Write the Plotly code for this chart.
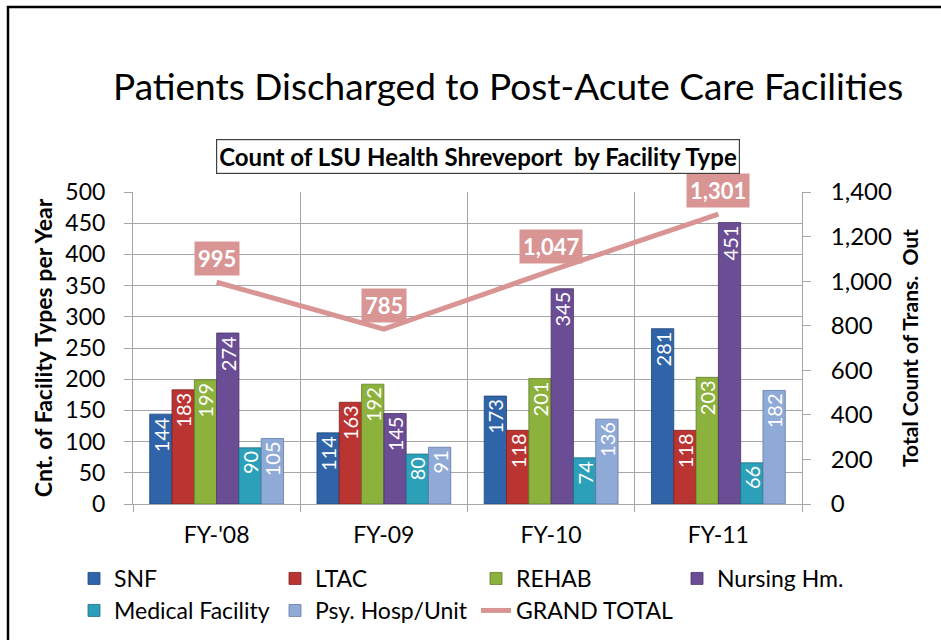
import plotly.graph_objects as go

# Fiscal years shown on the category axis
years = ["FY-'08", "FY-09", "FY-10", "FY-11"]

# Discharge counts per facility type
snf = [144, 114, 173, 281]
ltac = [183, 163, 118, 118]
rehab = [199, 192, 201, 203]
nursing = [274, 145, 345, 451]
medical = [90, 80, 74, 66]
psy = [105, 91, 136, 182]

# Total transfers out per year (secondary axis)
grand_total = [995, 785, 1047, 1301]

series_names = ["SNF", "LTAC", "REHAB", "Nursing Hm.", "Medical Facility", "Psy. Hosp/Unit"]
series_values = [snf, ltac, rehab, nursing, medical, psy]
series_colors = ["#2F64A9", "#BA3432", "#8CB23D", "#6B4D95", "#2C9FB9", "#8FAAD6"]
series_edges = ["#1F4678", "#82201F", "#5F7D26", "#4A3268", "#1D6F82", "#5F7BA6"]

FONT = "Lato"
LINE_COLOR = "#D99594"

# Plot-area pixel box
W, H = 941, 640
L, R, T, B = 133, 802, 192, 504


def px_x(px):
    return (px - L) / (R - L)


def px_y(py):
    return (B - py) / (B - T)


fig = go.Figure()

for name, vals, col, edge in zip(series_names, series_values, series_colors, series_edges):
    fig.add_trace(go.Bar(
        x=years, y=vals, name=name,
        marker=dict(color=col, line=dict(color=edge, width=0.8)),
        text=[str(v) for v in vals],
        textposition="inside", insidetextanchor="end", textangle=-90,
        constraintext="none",
        textfont=dict(family=FONT, size=20, color="white"),
        legend="legend" if name in ("SNF", "LTAC", "REHAB", "Nursing Hm.") else "legend2",
        hoverinfo="skip",
    ))

fig.add_trace(go.Scatter(
    x=years, y=grand_total, name="GRAND TOTAL", yaxis="y2",
    mode="lines", line=dict(color=LINE_COLOR, width=5),
    legend="legend2", hoverinfo="skip",
))

annotations = []
for yr, v in zip(years, grand_total):
    annotations.append(dict(
        x=yr, y=v, xref="x", yref="y2", text=f"<b>{v:,}</b>", showarrow=False,
        yshift=24, bgcolor=LINE_COLOR, borderpad=3,
        font=dict(family=FONT, size=22, color="white"),
    ))

annotations.append(dict(
    x=px_x(508), y=px_y(85), xref="paper", yref="paper", xanchor="center", yanchor="middle",
    text="Patients Discharged to Post-Acute Care Facilities", showarrow=False,
    font=dict(family=FONT, size=37, color="black"),
))
annotations.append(dict(
    x=px_x(478), y=px_y(156), xref="paper", yref="paper", xanchor="center", yanchor="middle",
    text="<b>Count of LSU Health Shreveport  by Facility Type</b>", showarrow=False,
    bordercolor="#404040", borderwidth=1.2, borderpad=2, bgcolor="white",
    font=dict(family=FONT, size=24, color="black"),
))

shapes = [dict(
    type="rect", xref="paper", yref="paper",
    x0=px_x(8), x1=px_x(960), y0=px_y(660), y1=px_y(7),
    line=dict(color="black", width=2.5), fillcolor="rgba(0,0,0,0)", layer="below",
)]

grid = "#A6A6A6"
fig.update_layout(
    width=W, height=H,
    margin=dict(l=L, r=W - R, t=T, b=H - B, autoexpand=False),
    paper_bgcolor="white", plot_bgcolor="white",
    barmode="group", bargap=0.2, bargroupgap=0,
    font=dict(family=FONT, color="black"),
    xaxis=dict(
        tickson="boundaries", showgrid=True, gridcolor=grid, gridwidth=1,
        ticks="outside", ticklen=7, tickcolor=grid, ticklabelstandoff=10,
        showline=True, linecolor=grid, linewidth=1,
        tickfont=dict(family=FONT, size=23, color="black"),
        range=[-0.5, 3.5],
    ),
    yaxis=dict(
        range=[0, 500], dtick=50, showgrid=True, gridcolor=grid, gridwidth=1,
        ticks="outside", ticklen=8, tickcolor=grid, ticklabelstandoff=14,
        showline=True, linecolor=grid, linewidth=1, zeroline=False,
        tickfont=dict(family=FONT, size=23, color="black"),
        title=dict(text="<b>Cnt. of Facility Types per Year</b>", standoff=6,
                   font=dict(family=FONT, size=23, color="black")),
    ),
    yaxis2=dict(
        range=[0, 1400], dtick=200, overlaying="y", side="right", tickformat=",",
        showgrid=False, ticks="outside", ticklen=8, tickcolor=grid, ticklabelstandoff=15,
        showline=True, linecolor=grid, linewidth=1, zeroline=False,
        tickfont=dict(family=FONT, size=24, color="black"),
        title=dict(text="<b>Total Count of Trans.  Out</b>", standoff=12,
                   font=dict(family=FONT, size=21, color="black")),
    ),
    legend=dict(
        orientation="h", x=px_x(74), y=px_y(557), xanchor="left", yanchor="top",
        entrywidth=156, entrywidthmode="pixels", traceorder="normal",
        font=dict(family=FONT, size=23, color="black"), bgcolor="rgba(0,0,0,0)",
    ),
    legend2=dict(
        orientation="h", x=px_x(74), y=px_y(589), xanchor="left", yanchor="top",
        entrywidth=156, entrywidthmode="pixels", traceorder="normal",
        font=dict(family=FONT, size=23, color="black"), bgcolor="rgba(0,0,0,0)",
    ),
    annotations=annotations,
    shapes=shapes,
    showlegend=True,
)

fig.write_html("out.html")
